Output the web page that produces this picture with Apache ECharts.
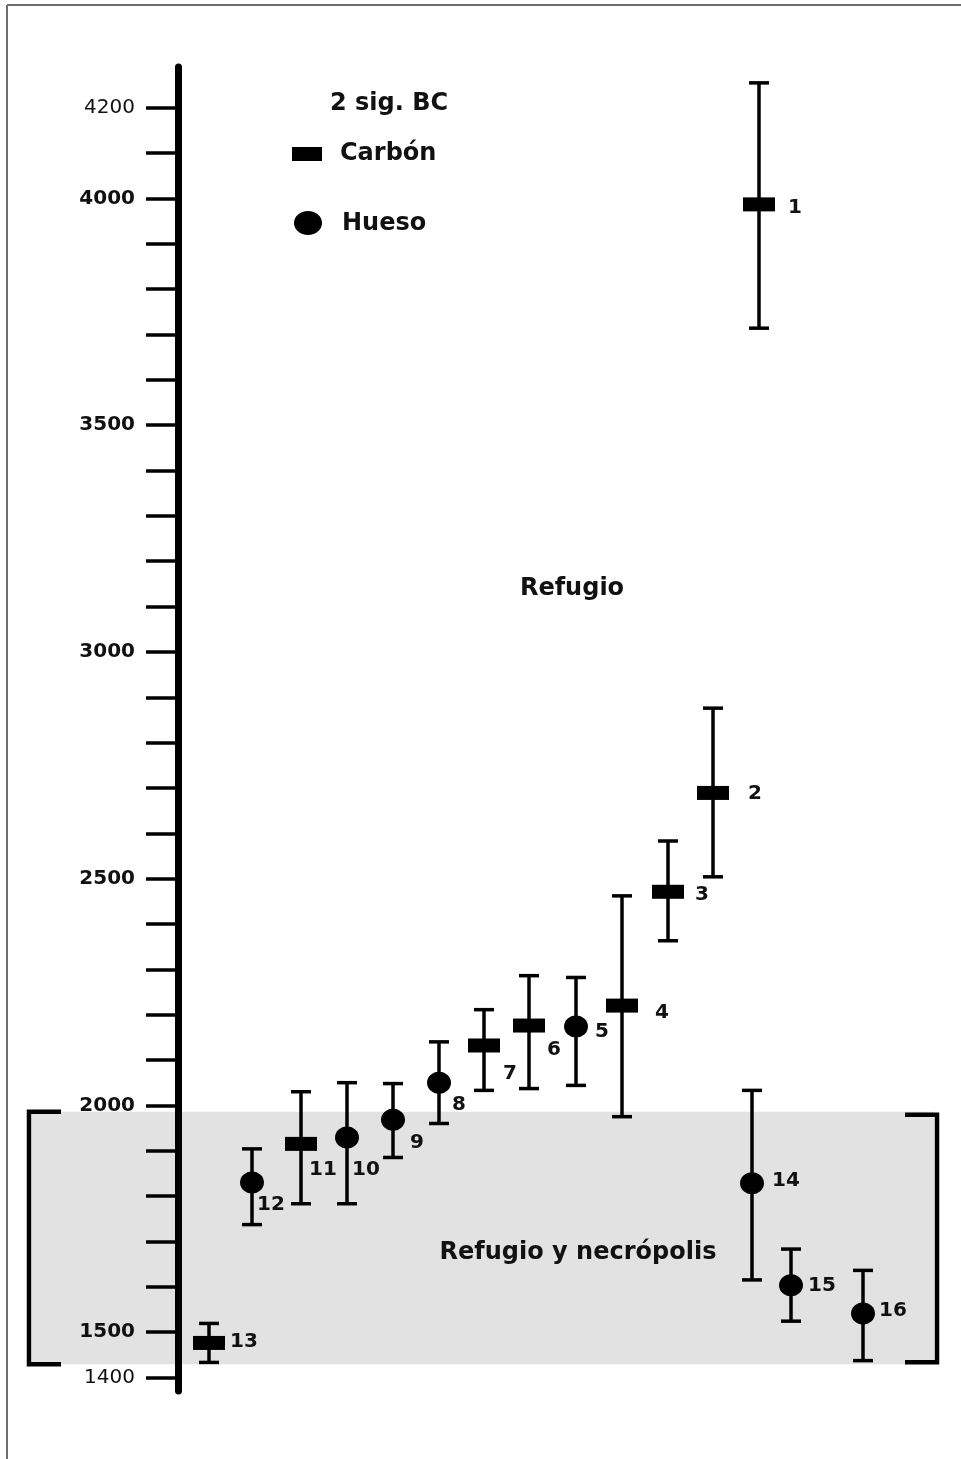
<!DOCTYPE html>
<html>
<head>
<meta charset="utf-8">
<script src="https://cdn.jsdelivr.net/npm/echarts@6/dist/echarts.min.js"></script>
<style>
  html, body { margin: 0; padding: 0; background: #fff; }
  #chart { width: 961px; height: 1459px; }
</style>
</head>
<body>
<div id="chart"></div>
<script>
// muestras 1..16, fechas calibradas 2 sigma BC
const sampleIds = ['1', '2', '3', '4', '5', '6', '7', '8', '9', '10', '11', '12', '13', '14', '15', '16'];
const material = ['Carbón', 'Carbón', 'Carbón', 'Carbón', 'Hueso', 'Carbón', 'Carbón', 'Hueso',
                  'Hueso', 'Hueso', 'Carbón', 'Hueso', 'Carbón', 'Hueso', 'Hueso', 'Hueso'];
// horizontal slot of each sample (no axis drawn)
const slot = [581, 535, 490, 444, 398, 351, 306, 261, 215, 169, 123, 74, 31, 574, 613, 685];
const centerBC = [3987, 2689, 2471, 2220, 2174, 2176, 2132, 2050, 1968, 1929, 1915, 1830, 1476, 1828, 1603, 1541];
const upperBC = [4255, 2876, 2583, 2462, 2282, 2286, 2211, 2140, 2048, 2050, 2030, 1904, 1519, 2033, 1683, 1636];
const lowerBC = [3714, 2504, 2363, 1975, 2044, 2037, 2033, 1960, 1885, 1783, 1783, 1737, 1433, 1615, 1524, 1437];

// "Refugio y necrópolis" phase
const phaseBC = [1986, 1429];

const tickValues = [];
for (let v = 1400; v <= 4200; v += 100) tickValues.push(v);
const labelValues = [1400, 1500, 2000, 2500, 3000, 3500, 4000, 4200];

// where each number sits next to its mark [dx, dy]
const labelShift = [[29, 3], [35, 1], [27, 3], [33, 7], [19, 5], [18, 24], [19, 28], [13, 22],
                    [17, 23], [5, 32], [8, 26], [5, 22], [21, -1], [20, -3], [17, 0], [16, -3]];

const FONT = '"DejaVu Sans", "Liberation Sans", sans-serif';

const pointData = sampleIds.map((id, i) => [slot[i], centerBC[i], upperBC[i], lowerBC[i], i]);

const chart = echarts.init(document.getElementById('chart'));

const option = {
  backgroundColor: '#fff',
  animation: false,
  grid: { left: 178, right: 0, top: 67, bottom: 68 },
  xAxis: { type: 'value', min: 0, max: 783, show: false },
  yAxis: {
    type: 'value',
    min: 1370,
    max: 4290,
    z: 10,
    axisLine: { show: true, lineStyle: { color: '#000', width: 7 } },
    axisTick: { show: true, length: 32, customValues: tickValues, lineStyle: { color: '#000', width: 3.5 } },
    axisLabel: {
      customValues: labelValues,
      margin: 43,
      formatter: v => (v === 1400 || v === 4200) ? '{n|' + v + '}' : '{b|' + v + '}',
      rich: {
        n: { fontFamily: FONT, fontSize: 20, fontWeight: 'normal', color: '#111' },
        b: { fontFamily: FONT, fontSize: 20, fontWeight: 'bold', color: '#111' }
      }
    },
    splitLine: { show: false }
  },
  graphic: [
    // marco
    { type: 'line', z: 100, shape: { x1: 7, y1: 5, x2: 7, y2: 1459 }, style: { stroke: '#6e6e6e', lineWidth: 2 } },
    { type: 'line', z: 100, shape: { x1: 7, y1: 5, x2: 961, y2: 5 }, style: { stroke: '#6e6e6e', lineWidth: 2 } },
    // leyenda
    { type: 'text', z: 100, x: 330, y: 104, style: { text: '2 sig. BC', font: 'bold 24px ' + FONT, fill: '#111', verticalAlign: 'middle' } },
    { type: 'rect', z: 100, shape: { x: 292, y: 147, width: 30, height: 14 }, style: { fill: '#000' } },
    { type: 'text', z: 100, x: 340, y: 154, style: { text: 'Carbón', font: 'bold 24px ' + FONT, fill: '#111', verticalAlign: 'middle' } },
    { type: 'ellipse', z: 100, shape: { cx: 308, cy: 223, rx: 14, ry: 12 }, style: { fill: '#000' } },
    { type: 'text', z: 100, x: 342, y: 224, style: { text: 'Hueso', font: 'bold 24px ' + FONT, fill: '#111', verticalAlign: 'middle' } },
    // fases
    { type: 'text', z: 100, x: 572, y: 589, style: { text: 'Refugio', font: 'bold 24px ' + FONT, fill: '#111', align: 'center', verticalAlign: 'middle' } },
    { type: 'text', z: 100, x: 578, y: 1253, style: { text: 'Refugio y necrópolis', font: 'bold 24px ' + FONT, fill: '#111', align: 'center', verticalAlign: 'middle' } }
  ],
  series: [
    {
      // banda gris + corchetes
      type: 'custom',
      z: 1,
      clip: false,
      silent: true,
      data: [[-149, 759, phaseBC[0], phaseBC[1]]],
      encode: { x: [0, 1], y: [2, 3] },
      renderItem(params, api) {
        const tl = api.coord([api.value(0), api.value(2)]);
        const br = api.coord([api.value(1), api.value(3)]);
        const arm = 32;
        const bs = { stroke: '#000', lineWidth: 4.5, fill: null };
        return {
          type: 'group',
          children: [
            { type: 'rect', shape: { x: tl[0] + 3, y: tl[1], width: br[0] - tl[0] - 6, height: br[1] - tl[1] }, style: { fill: '#e2e2e2' } },
            { type: 'polyline', shape: { points: [[tl[0] + arm, tl[1]], [tl[0], tl[1]], [tl[0], br[1]], [tl[0] + arm, br[1]]] }, style: bs },
            { type: 'polyline', shape: { points: [[br[0] - arm, tl[1] + 3], [br[0], tl[1] + 3], [br[0], br[1] - 2], [br[0] - arm, br[1] - 2]] }, style: bs }
          ]
        };
      }
    },
    {
      type: 'custom',
      z: 20,
      clip: false,
      data: pointData,
      encode: { x: 0, y: [1, 2, 3] },
      renderItem(params, api) {
        const i = api.value(4);
        const x = api.value(0);
        const c = api.coord([x, api.value(1)]);
        const hi = api.coord([x, api.value(2)]);
        const lo = api.coord([x, api.value(3)]);
        const ls = { stroke: '#000', lineWidth: 3.5 };
        const cap = 10;
        const marker = material[i] === 'Carbón'
          ? { type: 'rect', shape: { x: c[0] - 16, y: c[1] - 7, width: 32, height: 14 }, style: { fill: '#000' } }
          : { type: 'ellipse', shape: { cx: c[0], cy: c[1], rx: 12, ry: 11 }, style: { fill: '#000' } };
        const sh = labelShift[i];
        return {
          type: 'group',
          children: [
            { type: 'line', shape: { x1: hi[0], y1: hi[1], x2: lo[0], y2: lo[1] }, style: ls },
            { type: 'line', shape: { x1: hi[0] - cap, y1: hi[1], x2: hi[0] + cap, y2: hi[1] }, style: ls },
            { type: 'line', shape: { x1: lo[0] - cap, y1: lo[1], x2: lo[0] + cap, y2: lo[1] }, style: ls },
            marker,
            {
              type: 'text', x: c[0] + sh[0], y: c[1] + sh[1],
              style: { text: sampleIds[i], font: 'bold 20px ' + FONT, fill: '#111', align: 'left', verticalAlign: 'middle' }
            }
          ]
        };
      }
    }
  ]
};

chart.setOption(option);
</script>
</body>
</html>
